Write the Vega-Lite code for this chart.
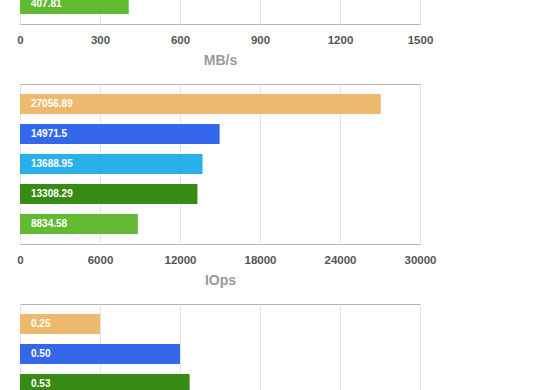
{
  "$schema": "https://vega.github.io/schema/vega-lite/v6.json",
  "padding": {"top": -137, "left": 8, "right": 5, "bottom": 5},
  "background": "white",
  "spacing": 15,
  "config": {
    "font": "Liberation Sans",
    "view": {"stroke": "#b3b3b3", "strokeWidth": 1},
    "axis": {
      "domain": false,
      "ticks": false,
      "grid": true,
      "gridColor": "#e6e6e6",
      "labelFontSize": 11.5,
      "labelColor": "#555555",
      "labelFontWeight": "bold",
      "labelPadding": 10,
      "labelFlush": false,
      "labelOverlap": false,
      "titleFontSize": 14,
      "titleColor": "#999999",
      "titleFontWeight": "bold",
      "titlePadding": 8
    }
  },
  "vconcat": [
    {
      "width": 400,
      "height": 160,
      "data": {"values": [
        {"rank": 5, "system": "E", "value": 407.81}
      ]},
      "encoding": {
        "y": {"field": "rank", "type": "ordinal", "scale": {"domain": [1, 2, 3, 4, 5], "paddingInner": 0.3333, "paddingOuter": 0.3333}, "axis": null}
      },
      "layer": [
        {
          "mark": {"type": "bar"},
          "encoding": {
            "x": {"field": "value", "type": "quantitative", "scale": {"domain": [0, 1500], "nice": false}, "axis": {"values": [0, 300, 600, 900, 1200, 1500], "format": "d", "title": "MB/s"}},
            "color": {"field": "system", "type": "nominal", "scale": {"domain": ["A", "B", "C", "D", "E"], "range": ["#edb96f", "#3567ea", "#2ab0e8", "#378a13", "#62ba33"]}, "legend": null}
          }
        },
        {
          "mark": {"type": "text", "align": "left", "baseline": "middle", "dx": 11, "color": "white", "fontSize": 10, "fontWeight": "bold"},
          "encoding": {
            "x": {"datum": 0},
            "text": {"field": "value", "type": "nominal"}
          }
        }
      ]
    },
    {
      "width": 400,
      "height": 160,
      "data": {"values": [
        {"rank": 1, "system": "A", "value": 27056.89},
        {"rank": 2, "system": "B", "value": 14971.5},
        {"rank": 3, "system": "C", "value": 13688.95},
        {"rank": 4, "system": "D", "value": 13308.29},
        {"rank": 5, "system": "E", "value": 8834.58}
      ]},
      "encoding": {
        "y": {"field": "rank", "type": "ordinal", "scale": {"domain": [1, 2, 3, 4, 5], "paddingInner": 0.3333, "paddingOuter": 0.3333}, "axis": null}
      },
      "layer": [
        {
          "mark": {"type": "bar"},
          "encoding": {
            "x": {"field": "value", "type": "quantitative", "scale": {"domain": [0, 30000], "nice": false}, "axis": {"values": [0, 6000, 12000, 18000, 24000, 30000], "format": "d", "title": "IOps"}},
            "color": {"field": "system", "type": "nominal", "scale": {"domain": ["A", "B", "C", "D", "E"], "range": ["#edb96f", "#3567ea", "#2ab0e8", "#378a13", "#62ba33"]}, "legend": null}
          }
        },
        {
          "mark": {"type": "text", "align": "left", "baseline": "middle", "dx": 11, "color": "white", "fontSize": 10, "fontWeight": "bold"},
          "encoding": {
            "x": {"datum": 0},
            "text": {"field": "value", "type": "nominal"}
          }
        }
      ]
    },
    {
      "width": 400,
      "height": 160,
      "data": {"values": [
        {"rank": 1, "system": "A", "value": 0.25},
        {"rank": 2, "system": "B", "value": 0.50},
        {"rank": 3, "system": "D", "value": 0.53}
      ]},
      "encoding": {
        "y": {"field": "rank", "type": "ordinal", "scale": {"domain": [1, 2, 3, 4, 5], "paddingInner": 0.3333, "paddingOuter": 0.3333}, "axis": null}
      },
      "layer": [
        {
          "mark": {"type": "bar"},
          "encoding": {
            "x": {"field": "value", "type": "quantitative", "scale": {"domain": [0, 1.25], "nice": false}, "axis": {"values": [0, 0.25, 0.5, 0.75, 1, 1.25], "format": ".2f", "title": "ms"}},
            "color": {"field": "system", "type": "nominal", "scale": {"domain": ["A", "B", "C", "D", "E"], "range": ["#edb96f", "#3567ea", "#2ab0e8", "#378a13", "#62ba33"]}, "legend": null}
          }
        },
        {
          "mark": {"type": "text", "align": "left", "baseline": "middle", "dx": 11, "color": "white", "fontSize": 10, "fontWeight": "bold"},
          "encoding": {
            "x": {"datum": 0},
            "text": {"field": "value", "type": "quantitative", "format": ".2f"}
          }
        }
      ]
    }
  ]
}
